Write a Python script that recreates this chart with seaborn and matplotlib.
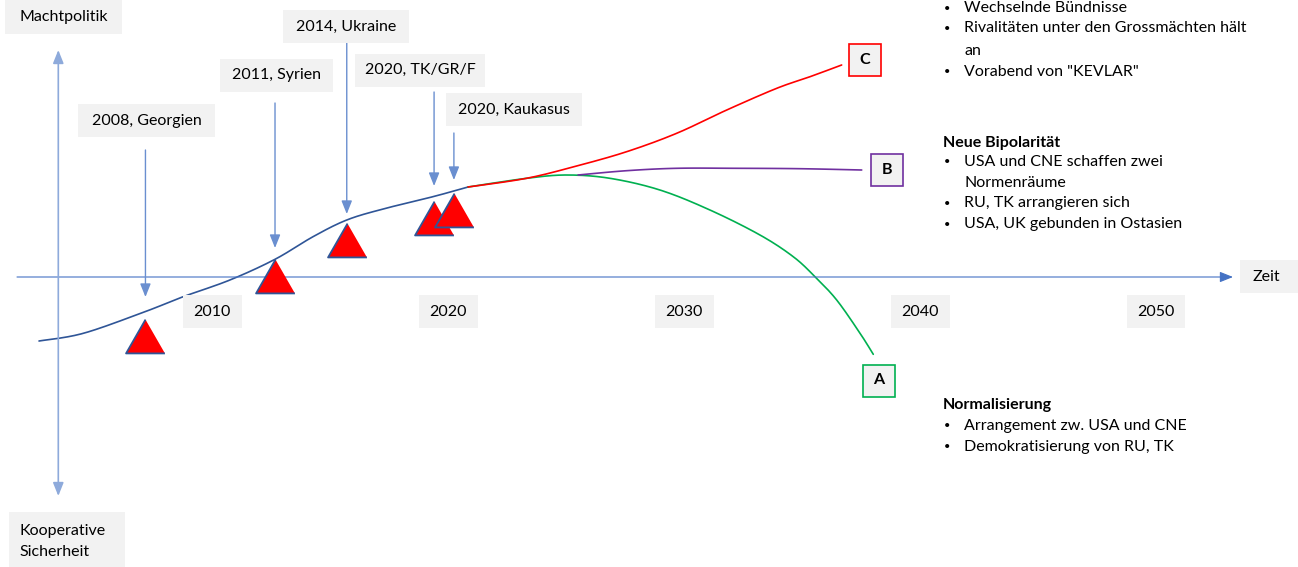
import numpy as np
import matplotlib.pyplot as plt
from matplotlib.patches import Rectangle
import seaborn as sns

# Zeitachse in Jahren, Niveau: positiv = Machtpolitik, negativ = Kooperative Sicherheit
trend_years = [2002.67, 2004.55, 2007.16, 2008.78, 2010.76, 2012.67, 2014.28, 2015.71, 2017.25, 2019.36, 2020.85]
trend_level = [-64.0, -56.3, -34.7, -19.7, -3.0, 17.7, 40.3, 57.0, 68.0, 80.3, 90.0]

c_years = [2020.85, 2023.33, 2025.45, 2027.57, 2029.69, 2031.81, 2033.93, 2035.34, 2036.68]
c_level = [90.0, 98.7, 111.0, 125.3, 143.7, 167.0, 188.7, 200.3, 212.0]

b_years = [2025.51, 2027.57, 2029.69, 2032.22, 2034.90, 2037.53]
b_level = [102.0, 106.3, 108.7, 108.7, 108.3, 107.0]

a_years = [2020.85, 2023.33, 2025.03, 2026.86, 2028.98, 2031.10, 2033.22, 2034.63, 2035.55, 2036.47, 2037.46, 2038.02]
a_level = [90.0, 98.7, 102.0, 98.7, 87.0, 67.0, 42.0, 20.3, 0.3, -23.0, -56.3, -77.3]

event_names = ['2008, Georgien', '2011, Syrien', '2014, Ukraine', '2020, TK/GR/F', '2020, Kaukasus']
event_years = [2007.18, 2012.67, 2015.71, 2019.41, 2020.25]
event_level = [-59.0, 1.0, 36.7, 59.5, 67.0]

decades = [2010, 2020, 2030, 2040, 2050]

scenario_text = {
    'C': [('', '•', 'Wechselnde Bündnisse'), ('', '•', 'Rivalitäten unter den Grossmächten hält'),
          ('', '', 'an'), ('', '•', 'Vorabend von "KEVLAR"')],
    'B': [('Neue Bipolarität', '', ''), ('', '•', 'USA und CNE schaffen zwei'), ('', '', 'Normenräume'),
          ('', '•', 'RU, TK arrangieren sich'), ('', '•', 'USA, UK gebunden in Ostasien')],
    'A': [('Normalisierung', '', ''), ('', '•', 'Arrangement zw. USA und CNE'),
          ('', '•', 'Demokratisierung von RU, TK')],
}

sns.set_theme(style='white')
plt.rcParams['font.family'] = ['Lato', 'DejaVu Sans']
plt.rcParams['text.color'] = 'black'
FS = 11.5


# Layout helpers: Pixel des Bildes -> Datenkoordinaten
def yr(px):
    return 2010 + (px - 212) / 23.6


def lv(py):
    return 277 - py


def smooth(xs, ys, n=24):
    P = np.column_stack([xs, ys]).astype(float)
    P = np.vstack([P[0], P, P[-1]])
    out = []
    t = np.linspace(0, 1, n, endpoint=False)[:, None]
    for i in range(1, len(P) - 2):
        p0, p1, p2, p3 = P[i - 1], P[i], P[i + 1], P[i + 2]
        out.append(0.5 * (2 * p1 + (-p0 + p2) * t + (2 * p0 - 5 * p1 + 4 * p2 - p3) * t ** 2
                          + (-p0 + 3 * p1 - 3 * p2 + p3) * t ** 3))
    out.append(P[-2][None])
    pts = np.vstack(out)
    return pts[:, 0], pts[:, 1]


def box(ax, cx, cy, w, h, text='', ec='none', lw=0, **kw):
    ax.add_patch(Rectangle((yr(cx - w / 2), lv(cy + h / 2)), w / 23.6, h,
                           facecolor='#f2f2f2', edgecolor=ec, linewidth=lw, zorder=3))
    if text:
        ax.text(yr(cx), lv(cy), text, ha='center', va='center', fontsize=FS, zorder=4, **kw)


fig = plt.figure(figsize=(12.98, 5.67), dpi=100)
ax = fig.add_axes([0, 0, 1, 1])
ax.set_xlim(yr(0), yr(1298))
ax.set_ylim(lv(567), lv(0))
ax.axis('off')

# Achsen
ax.annotate('', xy=(yr(1233), 0), xytext=(yr(17), 0),
            arrowprops=dict(arrowstyle='-|>,head_length=0.5,head_width=0.2', mutation_scale=16,
                            color='#4472c4', lw=0.8, shrinkA=0, shrinkB=0))
ax.annotate('', xy=(yr(58.3), lv(50)), xytext=(yr(58.3), lv(496)),
            arrowprops=dict(arrowstyle='<|-|>,head_length=0.5,head_width=0.2', mutation_scale=16,
                            color='#8eaadb', lw=1.2, shrinkA=0, shrinkB=0))

# Verlauf und Szenarien
x, y = smooth(trend_years, trend_level)
sns.lineplot(x=x, y=y, sort=False, estimator=None, color='#2f5597', linewidth=1.2, ax=ax)
for xs, ys, col in [(a_years, a_level, '#00b050'), (b_years, b_level, '#7030a0'),
                    (c_years, c_level, '#ff0000')]:
    x, y = smooth(xs, ys)
    sns.lineplot(x=x, y=y, sort=False, estimator=None, color=col, linewidth=1.2, ax=ax)

# Ereignisse
tri = [(0, 0.87), (-1, -0.87), (1, -0.87)]
sns.scatterplot(x=event_years, y=event_level, marker=tri, s=784, color='#ff0000',
                edgecolor='#2f5597', linewidth=1.3, zorder=5, ax=ax)

arrow_top = [150, 103, 37, 92, 133]
arrow_tip = [297, 248, 214, 186, 180]
label_pos = [(146.5, 120.5, 137), (276, 75, 113), (346, 26.7, 126), (420, 70, 130), (514, 109.7, 136)]
for name, ex, top, tip, (lx, ly, lw_) in zip(event_names, event_years, arrow_top, arrow_tip, label_pos):
    ax.annotate('', xy=(ex, lv(tip)), xytext=(ex, lv(top)),
                arrowprops=dict(arrowstyle='-|>,head_length=0.5,head_width=0.2', mutation_scale=16,
                                color='#6a8fd0', lw=1.0, shrinkA=0, shrinkB=0))
    box(ax, lx, ly, lw_, 33, name)

# Zeitachse
for d in decades:
    px = 212 + (d - 2010) * 23.6
    box(ax, px, 311.5, 59, 33, str(d))
box(ax, 1270, 276.5, 60, 33)
ax.text(yr(1266), lv(277), 'Zeit', ha='center', va='center', fontsize=FS, zorder=4)

box(ax, 63.5, 17, 117, 34, 'Machtpolitik')
box(ax, 67, 545, 116, 66)
ax.text(yr(19), lv(530.7), 'Kooperative', ha='left', va='center', fontsize=FS, zorder=4)
ax.text(yr(19), lv(551.7), 'Sicherheit', ha='left', va='center', fontsize=FS, zorder=4)

# Szenario-Kästchen
box(ax, 864.5, 60, 32, 32, 'C', ec='#ff0000', lw=1.2, fontweight='bold')
box(ax, 887, 169.5, 32, 32, 'B', ec='#7030a0', lw=1.2, fontweight='bold')
box(ax, 879, 380.5, 32, 32, 'A', ec='#00b050', lw=1.2, fontweight='bold')

# Beschreibungen
starts = {'C': 8.3, 'B': 142.7, 'A': 405}
steps = {'C': [0, 20, 42.4, 63.4], 'B': [0, 19, 40, 60.6, 81.3], 'A': [0, 20.7, 41.7]}
for key, lines in scenario_text.items():
    for (head, bullet, body), dy in zip(lines, steps[key]):
        py = starts[key] + dy
        if head:
            ax.text(yr(943), lv(py), head, ha='left', va='center', fontsize=FS, fontweight='bold')
        if bullet:
            ax.text(yr(947), lv(py), bullet, ha='center', va='center', fontsize=8)
        if body:
            ax.text(yr(964), lv(py), body, ha='left', va='center', fontsize=FS)

fig.savefig('out.png', dpi=100)
